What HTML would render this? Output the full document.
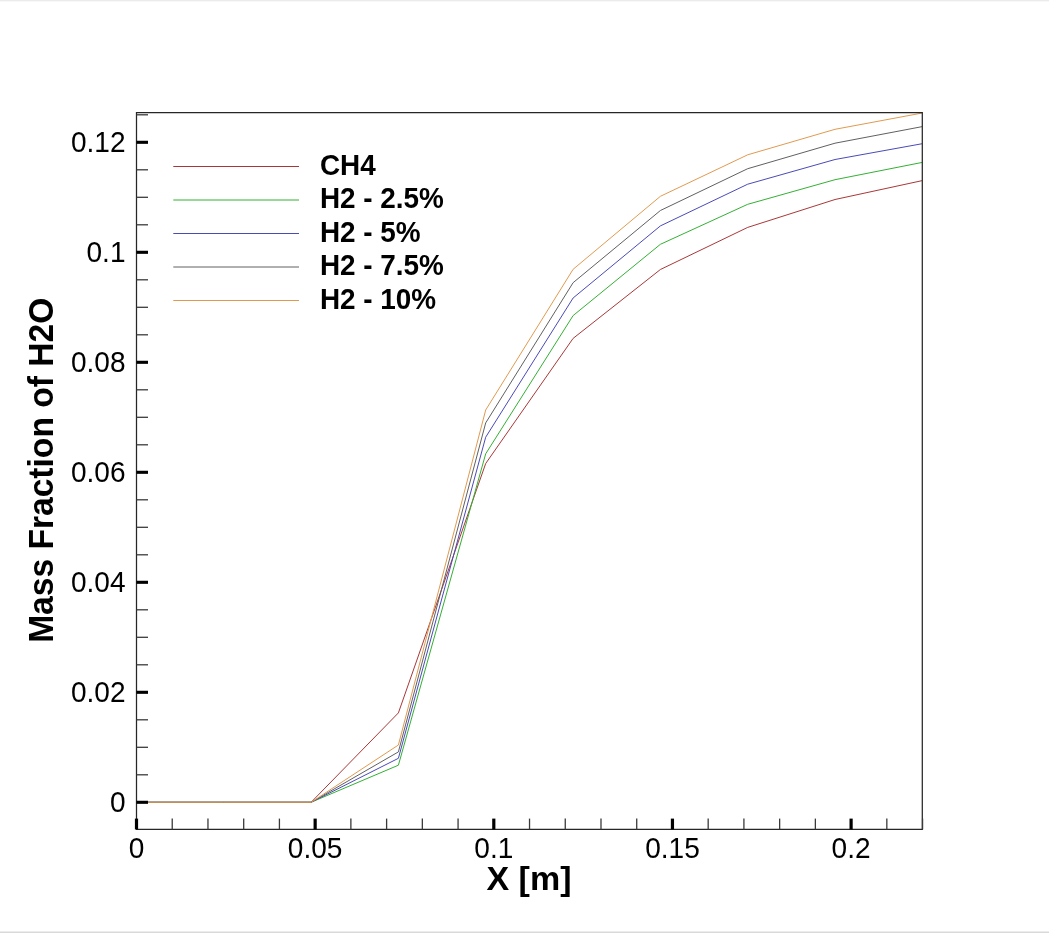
<!DOCTYPE html>
<html><head><meta charset="utf-8"><style>
html,body{margin:0;padding:0;background:#fff;}
body{width:1049px;height:933px;overflow:hidden;position:relative;}
svg{position:absolute;left:0;top:0;will-change:transform;}
text{font-family:"Liberation Sans",sans-serif;fill:#000;}
</style></head><body>
<svg width="1049" height="933" viewBox="0 0 1049 933">
<rect x="0" y="0" width="1049" height="933" fill="#fff"/>
<rect x="0" y="0" width="1049" height="1" fill="#ebebeb"/>
<rect x="0" y="1" width="1049" height="1" fill="#f8f8f8"/>
<rect x="0" y="931" width="1049" height="1" fill="#ececec"/>
<rect x="0" y="932" width="1049" height="1" fill="#d9d9d9"/>

<clipPath id="c"><rect x="136.5" y="112.5" width="785.8" height="717"/></clipPath>
<g clip-path="url(#c)" fill="none" stroke-width="1" stroke-linejoin="miter">
<polyline stroke="#a83838" points="136.5,802.3 223.8,802.3 311.1,802.3 398.4,712.9 485.7,463.5 573.1,338.4 660.4,269.5 747.7,227.4 835.0,199.5 922.3,180.6"/>
<polyline stroke="#34b034" points="136.5,802.3 223.8,802.3 311.1,802.3 398.4,765.2 485.7,453.8 573.1,315.6 660.4,244.3 747.7,204.3 835.0,179.7 922.3,162.4"/>
<polyline stroke="#4a4ab8" points="136.5,802.3 223.8,802.3 311.1,802.3 398.4,758.3 485.7,437.2 573.1,298.0 660.4,225.9 747.7,184.2 835.0,159.5 922.3,143.7"/>
<polyline stroke="#606060" points="136.5,802.3 223.8,802.3 311.1,802.3 398.4,751.9 485.7,422.9 573.1,282.7 660.4,210.5 747.7,168.7 835.0,143.2 922.3,126.6"/>
<polyline stroke="#e09a50" points="136.5,802.3 223.8,802.3 311.1,802.3 398.4,745.0 485.7,410.0 573.1,269.3 660.4,196.3 747.7,154.8 835.0,129.3 922.3,113.0"/>
</g>
<g fill="none" stroke="#262626" stroke-width="1.25">
<path d="M136.5,112.6 H922.3 V829.4 H136.5 Z"/>
</g>
<g stroke="#000">
<line x1="136.5" x2="148" y1="802.30" y2="802.30" stroke-width="3.1"/>
<line x1="136.5" x2="148" y1="692.30" y2="692.30" stroke-width="3.1"/>
<line x1="136.5" x2="148" y1="582.30" y2="582.30" stroke-width="3.1"/>
<line x1="136.5" x2="148" y1="472.30" y2="472.30" stroke-width="3.1"/>
<line x1="136.5" x2="148" y1="362.30" y2="362.30" stroke-width="3.1"/>
<line x1="136.5" x2="148" y1="252.30" y2="252.30" stroke-width="3.1"/>
<line x1="136.5" x2="148" y1="142.30" y2="142.30" stroke-width="3.1"/>
<line x1="136.5" x2="148" y1="774.80" y2="774.80" stroke-width="1.3" stroke="#3a3a3a"/>
<line x1="136.5" x2="148" y1="747.30" y2="747.30" stroke-width="1.3" stroke="#3a3a3a"/>
<line x1="136.5" x2="148" y1="719.80" y2="719.80" stroke-width="1.3" stroke="#3a3a3a"/>
<line x1="136.5" x2="148" y1="664.80" y2="664.80" stroke-width="1.3" stroke="#3a3a3a"/>
<line x1="136.5" x2="148" y1="637.30" y2="637.30" stroke-width="1.3" stroke="#3a3a3a"/>
<line x1="136.5" x2="148" y1="609.80" y2="609.80" stroke-width="1.3" stroke="#3a3a3a"/>
<line x1="136.5" x2="148" y1="554.80" y2="554.80" stroke-width="1.3" stroke="#3a3a3a"/>
<line x1="136.5" x2="148" y1="527.30" y2="527.30" stroke-width="1.3" stroke="#3a3a3a"/>
<line x1="136.5" x2="148" y1="499.80" y2="499.80" stroke-width="1.3" stroke="#3a3a3a"/>
<line x1="136.5" x2="148" y1="444.80" y2="444.80" stroke-width="1.3" stroke="#3a3a3a"/>
<line x1="136.5" x2="148" y1="417.30" y2="417.30" stroke-width="1.3" stroke="#3a3a3a"/>
<line x1="136.5" x2="148" y1="389.80" y2="389.80" stroke-width="1.3" stroke="#3a3a3a"/>
<line x1="136.5" x2="148" y1="334.80" y2="334.80" stroke-width="1.3" stroke="#3a3a3a"/>
<line x1="136.5" x2="148" y1="307.30" y2="307.30" stroke-width="1.3" stroke="#3a3a3a"/>
<line x1="136.5" x2="148" y1="279.80" y2="279.80" stroke-width="1.3" stroke="#3a3a3a"/>
<line x1="136.5" x2="148" y1="224.80" y2="224.80" stroke-width="1.3" stroke="#3a3a3a"/>
<line x1="136.5" x2="148" y1="197.30" y2="197.30" stroke-width="1.3" stroke="#3a3a3a"/>
<line x1="136.5" x2="148" y1="169.80" y2="169.80" stroke-width="1.3" stroke="#3a3a3a"/>
<line x1="136.5" x2="148" y1="114.80" y2="114.80" stroke-width="1.3" stroke="#3a3a3a"/>
<line x1="136.50" x2="136.50" y1="818.6" y2="829.4" stroke-width="3.2"/>
<line x1="172.23" x2="172.23" y1="818.6" y2="829.4" stroke-width="1.3" stroke="#3a3a3a"/>
<line x1="207.96" x2="207.96" y1="818.6" y2="829.4" stroke-width="1.3" stroke="#3a3a3a"/>
<line x1="243.69" x2="243.69" y1="818.6" y2="829.4" stroke-width="1.3" stroke="#3a3a3a"/>
<line x1="279.42" x2="279.42" y1="818.6" y2="829.4" stroke-width="1.3" stroke="#3a3a3a"/>
<line x1="315.15" x2="315.15" y1="818.6" y2="829.4" stroke-width="3.2"/>
<line x1="350.88" x2="350.88" y1="818.6" y2="829.4" stroke-width="1.3" stroke="#3a3a3a"/>
<line x1="386.61" x2="386.61" y1="818.6" y2="829.4" stroke-width="1.3" stroke="#3a3a3a"/>
<line x1="422.34" x2="422.34" y1="818.6" y2="829.4" stroke-width="1.3" stroke="#3a3a3a"/>
<line x1="458.07" x2="458.07" y1="818.6" y2="829.4" stroke-width="1.3" stroke="#3a3a3a"/>
<line x1="493.80" x2="493.80" y1="818.6" y2="829.4" stroke-width="3.2"/>
<line x1="529.53" x2="529.53" y1="818.6" y2="829.4" stroke-width="1.3" stroke="#3a3a3a"/>
<line x1="565.26" x2="565.26" y1="818.6" y2="829.4" stroke-width="1.3" stroke="#3a3a3a"/>
<line x1="600.99" x2="600.99" y1="818.6" y2="829.4" stroke-width="1.3" stroke="#3a3a3a"/>
<line x1="636.72" x2="636.72" y1="818.6" y2="829.4" stroke-width="1.3" stroke="#3a3a3a"/>
<line x1="672.45" x2="672.45" y1="818.6" y2="829.4" stroke-width="3.2"/>
<line x1="708.18" x2="708.18" y1="818.6" y2="829.4" stroke-width="1.3" stroke="#3a3a3a"/>
<line x1="743.91" x2="743.91" y1="818.6" y2="829.4" stroke-width="1.3" stroke="#3a3a3a"/>
<line x1="779.64" x2="779.64" y1="818.6" y2="829.4" stroke-width="1.3" stroke="#3a3a3a"/>
<line x1="815.37" x2="815.37" y1="818.6" y2="829.4" stroke-width="1.3" stroke="#3a3a3a"/>
<line x1="851.10" x2="851.10" y1="818.6" y2="829.4" stroke-width="3.2"/>
<line x1="886.83" x2="886.83" y1="818.6" y2="829.4" stroke-width="1.3" stroke="#3a3a3a"/>
<line x1="922.56" x2="922.56" y1="818.6" y2="829.4" stroke-width="1.3" stroke="#3a3a3a"/>
</g>
<g font-size="30" text-anchor="end">
<text transform="translate(125.5,812.3) scale(0.935,1)">0</text>
<text transform="translate(125.5,702.3) scale(0.935,1)">0.02</text>
<text transform="translate(125.5,592.3) scale(0.935,1)">0.04</text>
<text transform="translate(125.5,482.3) scale(0.935,1)">0.06</text>
<text transform="translate(125.5,372.3) scale(0.935,1)">0.08</text>
<text transform="translate(125.5,262.3) scale(0.935,1)">0.1</text>
<text transform="translate(125.5,152.3) scale(0.935,1)">0.12</text>
</g>
<g font-size="30" text-anchor="middle">
<text transform="translate(136.5,858.3) scale(0.935,1)">0</text>
<text transform="translate(315.1,858.3) scale(0.935,1)">0.05</text>
<text transform="translate(493.8,858.3) scale(0.935,1)">0.1</text>
<text transform="translate(672.5,858.3) scale(0.935,1)">0.15</text>
<text transform="translate(851.1,858.3) scale(0.935,1)">0.2</text>
</g>
<text x="529" y="889.8" font-size="34" font-weight="bold" text-anchor="middle">X [m]</text>
<text transform="translate(53.1,470.3) rotate(-90) scale(0.965,1)" font-size="34.8" font-weight="bold" text-anchor="middle">Mass Fraction of H2O</text>
<g font-size="29" font-weight="bold">
<line x1="173.3" x2="299" y1="166.5" y2="166.5" stroke="#a83838" stroke-width="1"/>
<text transform="translate(319.9,174.8) scale(0.962,1)">CH4</text>
<line x1="173.3" x2="299" y1="200.0" y2="200.0" stroke="#34b034" stroke-width="1"/>
<text transform="translate(319.9,208.3) scale(0.962,1)">H2 - 2.5%</text>
<line x1="173.3" x2="299" y1="233.5" y2="233.5" stroke="#4a4ab8" stroke-width="1"/>
<text transform="translate(319.9,241.8) scale(0.962,1)">H2 - 5%</text>
<line x1="173.3" x2="299" y1="267.0" y2="267.0" stroke="#606060" stroke-width="1"/>
<text transform="translate(319.9,275.3) scale(0.962,1)">H2 - 7.5%</text>
<line x1="173.3" x2="299" y1="300.5" y2="300.5" stroke="#e09a50" stroke-width="1"/>
<text transform="translate(319.9,308.8) scale(0.962,1)">H2 - 10%</text>
</g>
</svg>
</body></html>
